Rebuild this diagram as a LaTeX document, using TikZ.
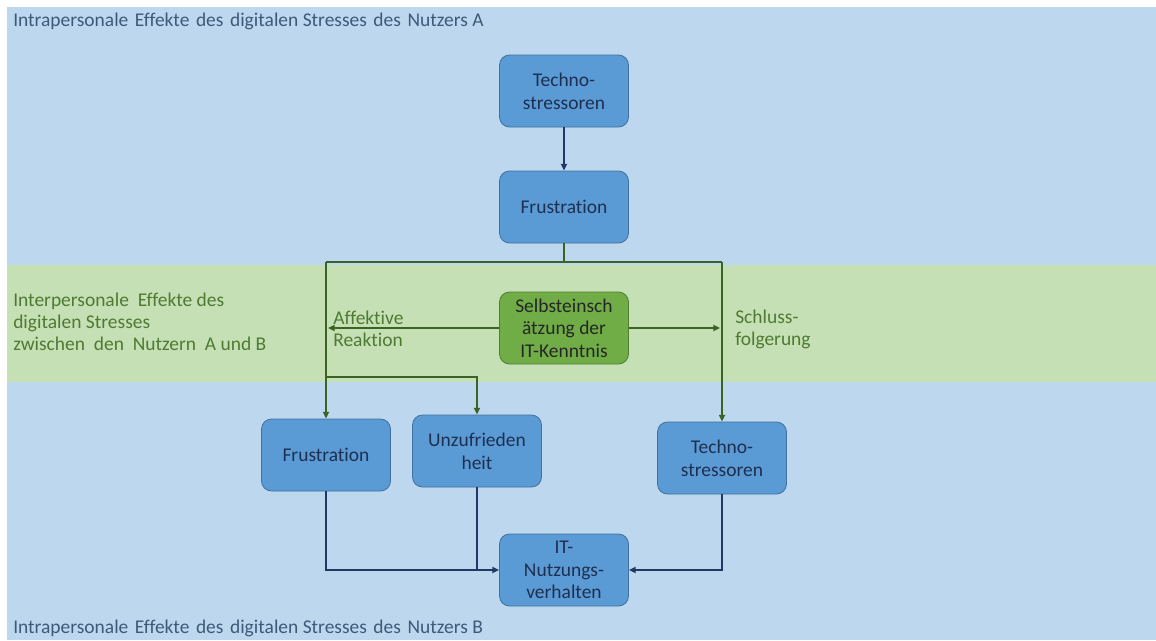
\documentclass[tikz,border=0pt]{standalone}
\usepackage{fontspec}
\setmainfont{Carlito}[Ligatures={NoCommon}]
\usetikzlibrary{arrows.meta}
\definecolor{bandblue}{HTML}{BDD7EE}
\definecolor{bandgreen}{HTML}{C5E0B4}
\definecolor{boxblue}{HTML}{5B9BD5}
\definecolor{boxblueedge}{HTML}{41719C}
\definecolor{boxgreen}{HTML}{70AD47}
\definecolor{boxgreenedge}{HTML}{507E32}
\definecolor{navytext}{HTML}{1F2F4F}
\definecolor{navyline}{HTML}{1F3864}
\definecolor{greenline}{HTML}{3B6324}
\definecolor{greentext}{HTML}{4F7A33}
\definecolor{titletext}{HTML}{3E5A78}
\newcommand{\wsp}{\ \hspace{1.6pt}}
\tikzset{
  box/.style={draw=boxblueedge, line width=0.6pt, fill=boxblue, rounded corners=7.5pt,
    minimum width=96.75pt, minimum height=54pt, align=center, text=navytext,
    font=\fontsize{14.6}{17}\selectfont, inner sep=2pt},
  gbox/.style={box, draw=boxgreenedge, fill=boxgreen, text=black!85},
  nline/.style={draw=navyline, line width=1.4pt},
  narrow/.style={nline, -{Triangle[length=5pt,width=4.5pt]}},
  gline/.style={draw=greenline, line width=1.4pt},
  garrow/.style={gline, -{Triangle[length=5pt,width=4.5pt]}},
  bandlabel/.style={anchor=west, align=left, inner sep=0pt, font=\fontsize{14.6}{16.5}\selectfont},
  sidelabel/.style={bandlabel, text=greentext}
}
\begin{document}
\begin{tikzpicture}[x=0.75pt, y=-0.75pt]
  \useasboundingbox (0,0) rectangle (1156,640);
  % background bands
  \fill[white] (0,0) rectangle (1156,640);
  \fill[bandblue] (7,7) rectangle (1156,265);
  \fill[bandgreen] (7,265) rectangle (1156,382);
  \fill[bandblue] (7,382) rectangle (1156,640);

  % band titles
  \node[bandlabel, text=titletext] (lblA) at (13,21) {Intrapersonale\wsp Effekte\wsp des\wsp digitalen Stresses\wsp des\wsp Nutzers A};
  \node[sidelabel] (lblAB) at (13,322) {Interpersonale\ \ Effekte des\\digitalen Stresses\\zwischen\ \ den\ \ Nutzern\ \ A und B};
  \node[bandlabel, text=titletext] (lblB) at (13,628) {Intrapersonale\wsp Effekte\wsp des\wsp digitalen Stresses\wsp des\wsp Nutzers B};

  % boxes
  \node[box] (techA) at (564,91) {Techno-\\stressoren};
  \node[box] (frusA) at (564,207) {Frustration};
  \node[gbox] (self) at (564,328) {Selbsteinsch\\ätzung der\\IT-Kenntnis};
  \node[box] (frusB) at (326,455) {Frustration};
  \node[box] (unzu) at (477,451) {Unzufrieden\\heit};
  \node[box] (techB) at (722,458) {Techno-\\stressoren};
  \node[box] (itn) at (564,570) {IT-\\Nutzungs-\\verhalten};

  % junction points
  \coordinate (jT) at (564,262);
  \coordinate (jL) at (326,262);
  \coordinate (jR) at (722,262);
  \coordinate (aL) at (328,328);
  \coordinate (aR) at (720,328);
  \coordinate (bL) at (326,377);
  \coordinate (bU) at (477,377);

  % upper flow
  \draw[narrow] (techA) -- (frusA);
  \draw[gline] (frusA.south) -- (jT);
  \draw[gline] (jL) -- (jR);
  \draw[garrow] (jL) -- (frusB.north);
  \draw[garrow] (jR) -- (techB.north);
  \draw[garrow] (self.west) -- (aL);
  \draw[garrow] (self.east) -- (aR);
  \draw[garrow] (bL) -- (bU) -- (unzu.north);

  % side labels
  \node[sidelabel] (affekt) at (333,329) {Affektive\\Reaktion};
  \node[sidelabel] (schluss) at (735,329) {Schluss-\\folgerung};

  % lower flow
  \draw[narrow] (frusB.south) |- (itn.west);
  \draw[nline] (unzu.south) -- (unzu.south |- itn.west);
  \draw[narrow] (techB.south) |- (itn.east);
\end{tikzpicture}
\end{document}
